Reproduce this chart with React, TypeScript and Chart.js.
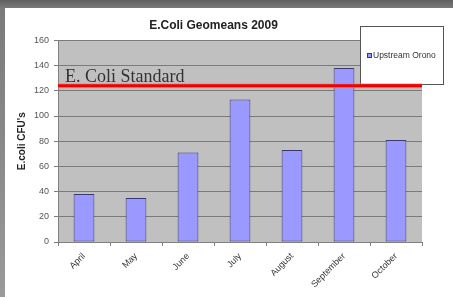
import React, { useEffect, useRef } from "react";
import { Chart, registerables } from "chart.js";

Chart.register(...registerables);

const categories = ["April", "May", "June", "July", "August", "September", "October"];
const upstreamOrono = [38, 35, 71, 113, 73, 138, 81];
const seriesName = "Upstream Orono";
const standardValue = 124;
const standardLabel = "E. Coli Standard";
const chartTitle = "E.Coli Geomeans 2009";
const yAxisTitle = "E.coli CFU's";
const yMin = 0;
const yMax = 160;
const yStep = 20;

const SANS = 'Arial, "Liberation Sans", sans-serif';

const plotBackground = {
  id: "plotBackground",
  beforeDraw(chart: any) {
    const { ctx, chartArea } = chart;
    ctx.save();
    ctx.fillStyle = "#c0c0c0";
    ctx.fillRect(chartArea.left, chartArea.top, chartArea.right - chartArea.left, chartArea.bottom - chartArea.top);
    ctx.restore();
  },
};

const overlay = {
  id: "overlay",
  afterDatasetsDraw(chart: any) {
    const { ctx, chartArea, scales } = chart;
    ctx.save();
    // legend box
    const lx = 355, ly = 18, lw = 84, lh = 59;
    ctx.fillStyle = "#ffffff";
    ctx.fillRect(lx, ly, lw, lh);
    ctx.strokeStyle = "#555555";
    ctx.lineWidth = 1;
    ctx.strokeRect(lx + 0.5, ly + 0.5, lw - 1, lh - 1);
    ctx.fillStyle = "#9999ff";
    ctx.fillRect(362, 45, 5, 5);
    ctx.strokeStyle = "#3a3a70";
    ctx.strokeRect(362.5, 45.5, 4, 4);
    ctx.fillStyle = "#333333";
    ctx.font = `8.5px ${SANS}`;
    ctx.textBaseline = "middle";
    ctx.textAlign = "left";
    ctx.fillText(seriesName, 368, 48);

    // standard line
    const y = scales.y.getPixelForValue(standardValue);
    ctx.strokeStyle = "rgba(255,120,100,0.6)";
    ctx.lineWidth = 5;
    ctx.beginPath();
    ctx.moveTo(chartArea.left, y);
    ctx.lineTo(chartArea.right, y);
    ctx.stroke();
    ctx.strokeStyle = "#ee0000";
    ctx.lineWidth = 3;
    ctx.beginPath();
    ctx.moveTo(chartArea.left, y);
    ctx.lineTo(chartArea.right, y);
    ctx.stroke();

    ctx.fillStyle = "#333333";
    ctx.font = '18px "Liberation Serif", "Times New Roman", serif';
    ctx.textBaseline = "alphabetic";
    ctx.textAlign = "left";
    ctx.fillText(standardLabel, chartArea.left + 7, y - 3.5);
    ctx.restore();
  },
};

export default function App() {
  const ref = useRef<HTMLCanvasElement>(null);

  useEffect(() => {
    document.body.style.margin = "0";
    const chart = new Chart(ref.current!, {
      type: "bar",
      data: {
        labels: categories,
        datasets: [
          {
            label: seriesName,
            data: upstreamOrono,
            backgroundColor: "#9999ff",
            borderColor: "#3a3a70",
            borderWidth: 1,
            borderSkipped: false,
            categoryPercentage: 1,
            barPercentage: 0.4,
          },
        ],
      },
      options: {
        responsive: false,
        devicePixelRatio: 1,
        animation: false,
        layout: { padding: { left: 0, right: 31, top: 0, bottom: 0 } },
        plugins: {
          legend: { display: false },
          tooltip: { enabled: false },
          title: {
            display: true,
            text: chartTitle,
            color: "#222222",
            font: { family: SANS, size: 12, weight: "bold" },
            padding: { top: 10, bottom: 8 },
          },
        },
        scales: {
          x: {
            offset: true,
            grid: {
              offset: true,
              drawOnChartArea: false,
              drawTicks: true,
              tickLength: 4,
              color: "#808080",
            },
            border: { color: "#808080" },
            ticks: {
              color: "#333333",
              font: { family: SANS, size: 9 },
              minRotation: 45,
              maxRotation: 45,
              padding: 5,
            },
            afterFit(scale: any) {
              scale.height = 55;
            },
          },
          y: {
            min: yMin,
            max: yMax,
            ticks: {
              stepSize: yStep,
              color: "#555555",
              font: { family: SANS, size: 9 },
              padding: 5,
            },
            grid: {
              color: "#7a7a7a",
              tickLength: 4,
              drawTicks: true,
            },
            border: { color: "#808080" },
            title: {
              display: true,
              text: yAxisTitle,
              color: "#222222",
              font: { family: SANS, size: 10, weight: "bold" },
              padding: { top: 11, bottom: 0 },
            },
            afterFit(scale: any) {
              scale.width = 53;
            },
          },
        },
      },
      plugins: [plotBackground, overlay],
    });
    return () => chart.destroy();
  }, []);

  return (
    <div
      style={{
        position: "relative",
        width: 453,
        height: 297,
        overflow: "hidden",
        background: "linear-gradient(to bottom, #5f5f5f 0px, #7a7a7a 8px, #9a9a9a 100%)",
      }}
    >
      <div style={{ position: "absolute", left: 5, top: 8, width: 448, height: 289, background: "#ffffff" }}>
        <canvas ref={ref} width={448} height={289} style={{ display: "block", width: 448, height: 289 }} />
      </div>
    </div>
  );
}
